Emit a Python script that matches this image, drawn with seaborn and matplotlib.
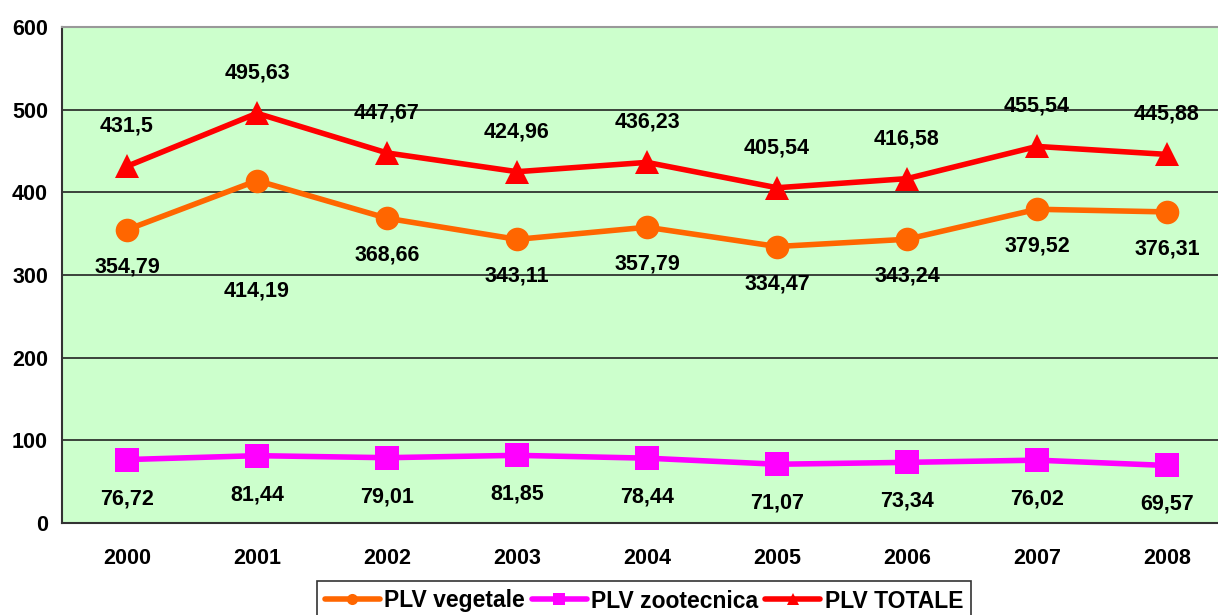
import numpy as np
import pandas as pd
import seaborn as sns
from matplotlib import pyplot as plt
from matplotlib.ticker import FixedLocator

years = ["2000", "2001", "2002", "2003", "2004", "2005", "2006", "2007", "2008"]
vegetale = [354.79, 414.19, 368.66, 343.11, 357.79, 334.47, 343.24, 379.52, 376.31]
zootecnica = [76.72, 81.44, 79.01, 81.85, 78.44, 71.07, 73.34, 76.02, 69.57]
totale = [431.5, 495.63, 447.67, 424.96, 436.23, 405.54, 416.58, 455.54, 445.88]
series_names = ["PLV vegetale", "PLV zootecnica", "PLV TOTALE"]

df = pd.DataFrame({
    "Anno": list(range(len(years))) * 3,
    "Valore": vegetale + zootecnica + totale,
    "Serie": [series_names[0]] * 9 + [series_names[1]] * 9 + [series_names[2]] * 9,
})

colors = {"PLV vegetale": "#FF6600", "PLV zootecnica": "#FF00FF", "PLV TOTALE": "#FF0000"}
markers = {"PLV vegetale": "o", "PLV zootecnica": "s", "PLV TOTALE": "^"}

sns.set_style("white")
plt.rcParams["font.family"] = ["Liberation Sans", "DejaVu Sans"]
plt.rcParams["font.weight"] = "bold"
plt.rcParams["text.color"] = "black"

fig = plt.figure(figsize=(12.18, 6.15), dpi=100)
ax = fig.add_axes([62 / 1218, 92 / 615, 1 - 62 / 1218, 496 / 615])
ax.set_facecolor("#CCFFCC")

sns.lineplot(data=df, x="Anno", y="Valore", hue="Serie", style="Serie",
             palette=colors, markers=markers, dashes=False, linewidth=4,
             markersize=17, markeredgewidth=0, ax=ax, legend=True, zorder=3)

# data labels, offset in pixels (below for vegetale/zootecnica, above for totale)
def label(vals, dy, extra=None):
    for i, v in enumerate(vals):
        d = dy
        if extra and i in extra:
            d = extra[i]
        ax.annotate(f"{v:g}".replace(".", ","), (i, v), xytext=(0, d),
                    textcoords="offset pixels", ha="center", va="center",
                    fontsize=15.5, fontweight="bold", color="black", zorder=5)

label(vegetale, -37, {1: -110})
label(zootecnica, -39)
label(totale, 40)

ax.set_xlim(-0.5, (1218 - 62) / 130 - 0.5)
ax.set_ylim(0, 600)
ax.set_yticks(range(0, 601, 100))
ax.yaxis.grid(True, color="#222222", linewidth=1.2, zorder=1)
ax.set_axisbelow(True)
ax.set_xticks(range(len(years)))
ax.set_xticklabels(years)
ax.xaxis.set_minor_locator(FixedLocator(np.arange(-0.5, 9, 1)))
ax.tick_params(axis="x", which="major", length=0, pad=18, labelsize=15.5, labelcolor="black")
ax.tick_params(axis="x", which="minor", length=6, width=1.2, color="#333333", direction="out")
ax.tick_params(axis="y", length=6, width=1.2, color="#333333", direction="out",
               labelsize=15.5, pad=4, labelcolor="black")
for t in ax.get_xticklabels() + ax.get_yticklabels():
    t.set_fontweight("bold")
ax.set_xlabel("")
ax.set_ylabel("")

ax.spines["right"].set_visible(False)
ax.spines["top"].set_color("#999999")
ax.spines["top"].set_linewidth(1.5)
ax.spines["left"].set_color("#333333")
ax.spines["left"].set_linewidth(1.5)
ax.spines["bottom"].set_color("#333333")
ax.spines["bottom"].set_linewidth(1.5)

ax.get_legend().remove()
handles, labels_ = ax.get_legend_handles_labels()
leg = fig.legend(handles[:3], labels_[:3], loc="center", bbox_to_anchor=(644 / 1218, 14 / 615),
                 ncol=3, frameon=True, fancybox=False, edgecolor="black",
                 prop={"weight": "bold", "size": 16.5}, handlelength=2.4,
                 handletextpad=0.2, columnspacing=0.3, borderpad=0.35)
leg.get_frame().set_linewidth(1.2)
for h in leg.legend_handles:
    h.set_markersize(8)
    h.set_linewidth(4)

fig.savefig("out.png", dpi=100)
